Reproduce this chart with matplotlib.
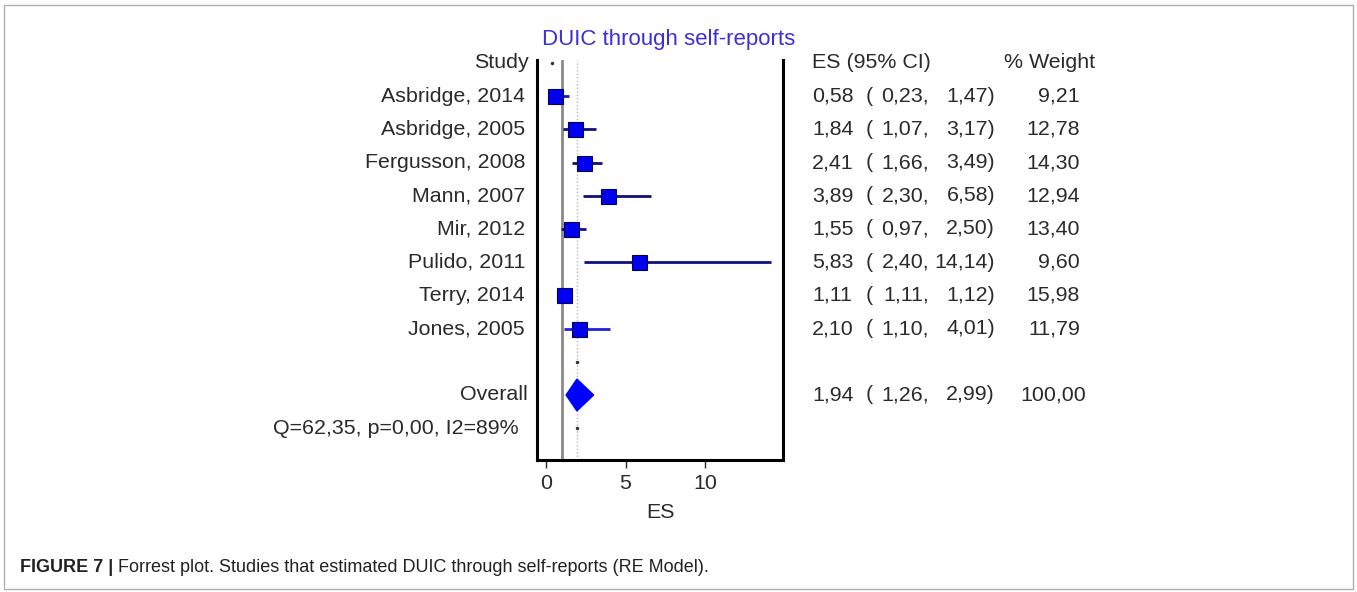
import matplotlib
matplotlib.use("Agg")
import matplotlib.pyplot as plt
from matplotlib.patches import Polygon, Rectangle

studies = ["Asbridge, 2014", "Asbridge, 2005", "Fergusson, 2008", "Mann, 2007",
           "Mir, 2012", "Pulido, 2011", "Terry, 2014", "Jones, 2005"]
es = [0.58, 1.84, 2.41, 3.89, 1.55, 5.83, 1.11, 2.10]
lo = [0.23, 1.07, 1.66, 2.30, 0.97, 2.40, 1.11, 1.10]
hi = [1.47, 3.17, 3.49, 6.58, 2.50, 14.14, 1.12, 4.01]
weight = [9.21, 12.78, 14.30, 12.94, 13.40, 9.60, 15.98, 11.79]
overall = (1.94, 1.26, 2.99, 100.00)
het_text = "Q=62,35, p=0,00, I2=89%"
xticks = [0, 5, 10]
title = "DUIC through self-reports"
caption_bold = "FIGURE 7 |"
caption_rest = " Forrest plot. Studies that estimated DUIC through self-reports (RE Model)."

W, H = 1357, 592
plt.rcParams['font.family'] = ['Liberation Sans', 'DejaVu Sans']
fig = plt.figure(figsize=(W / 100, H / 100), dpi=100)

# outer frame
fig.patches.append(Rectangle((4 / W, 3 / H), (W - 8) / W, (H - 8) / H, transform=fig.transFigure,
                             fill=False, edgecolor="#b0b0b0", linewidth=1.0))

FS = 15.4
TXT = "#2a2a2a"

axl, axr, axt, axb = 537, 783, 60, 460
ax = fig.add_axes([axl / W, 1 - axb / H, (axr - axl) / W, (axb - axt) / H])
row0, rowh = 63, 33.2
ax.set_xlim(-0.57, 14.9)
ax.set_ylim((axb - row0) / rowh, (axt - row0) / rowh)

for s in ["left", "right", "bottom"]:
    ax.spines[s].set_linewidth(2.2)
    ax.spines[s].set_color("black")
ax.spines["top"].set_visible(False)
ax.set_yticks([])
ax.set_xticks(xticks)
ax.tick_params(axis="x", length=6, width=1.0, labelsize=FS, colors=TXT, pad=4)
ax.set_xlabel("ES", fontsize=FS, color=TXT, labelpad=7)

ylo, yhi = ax.get_ylim()
ax.plot([1, 1], [ylo, yhi], color="#8a8a8a", lw=2.0, zorder=1)
ax.plot([overall[0]] * 2, [ylo, yhi], color="#b8b8b8", lw=1.0, ls=(0, (1, 1.5)), zorder=1)

ci_colors = ["#1a1aa0", "#10107a", "#10107a", "#10107a", "#10107a", "#10107a", "#10107a", "#2020e0"]
for i, (e, l, h, w) in enumerate(zip(es, lo, hi, weight)):
    y = i + 1
    ax.plot([l, h], [y, y], color=ci_colors[i], lw=2.0, zorder=2, solid_capstyle="butt")
    ax.plot([e], [y], marker="s", ms=10.8, color="#0000ee", mec="#000060", mew=0.8, zorder=3)

oy = len(studies) + 2
o_es, o_lo, o_hi, o_w = overall
dia = Polygon([[o_lo, oy], [o_es, oy - 0.48], [o_hi, oy], [o_es, oy + 0.48]], closed=True,
              facecolor="#0000ff", edgecolor="#0000ff", zorder=3)
ax.add_patch(dia)
ax.plot([o_es, o_es], [len(studies) + 1, oy + 1], ls="none", marker=".", ms=3, color="#333333", zorder=3)
ax.plot([0.4], [0], ls="none", marker=".", ms=3, color="#333333")


def fx(px):
    return (px - axl) / (axr - axl)


ax.text(fx(669), 1 + 20 / (axb - axt), title, color="#3b30d8", fontsize=16,
        transform=ax.transAxes, ha="center", va="center")

tr = ax.get_yaxis_transform()
txt_kw = dict(fontsize=FS, color=TXT, transform=tr, va="center", clip_on=False)


def fmt(v):
    return f"{v:.2f}".replace(".", ",")


def es_row(y, e, l, h):
    ax.text(fx(812), y, fmt(e), ha="left", **txt_kw)
    ax.text(fx(866), y, "(", ha="left", **txt_kw)
    ax.text(fx(929), y, fmt(l) + ",", ha="right", **txt_kw)
    ax.text(fx(995), y, fmt(h) + ")", ha="right", **txt_kw)


ax.text(fx(529), 0, "Study", ha="right", **txt_kw)
ax.text(fx(812), 0, "ES (95% CI)", ha="left", **txt_kw)
ax.text(fx(1095), 0, "% Weight", ha="right", **txt_kw)
for i, name in enumerate(studies):
    y = i + 1
    ax.text(fx(525), y, name, ha="right", **txt_kw)
    es_row(y, es[i], lo[i], hi[i])
    ax.text(fx(1080), y, fmt(weight[i]), ha="right", **txt_kw)
ax.text(fx(528), oy, "Overall", ha="right", **txt_kw)
es_row(oy, o_es, o_lo, o_hi)
ax.text(fx(1086), oy, fmt(o_w), ha="right", **txt_kw)
ax.text(fx(519), oy + 1, het_text, ha="right", **txt_kw)

CFS = 13
cap_fam = ["Liberation Sans Narrow", "Liberation Sans"]
t1 = fig.text(20 / W, 1 - 567 / H, caption_bold, fontsize=CFS, fontweight="bold",
              color="#222222", va="center", family=cap_fam)
fig.canvas.draw()
bb = t1.get_window_extent()
fig.text(bb.x1 / W, 1 - 567 / H, caption_rest, fontsize=CFS, color="#222222", va="center",
         family=cap_fam)

fig.savefig("out.png", dpi=100)
